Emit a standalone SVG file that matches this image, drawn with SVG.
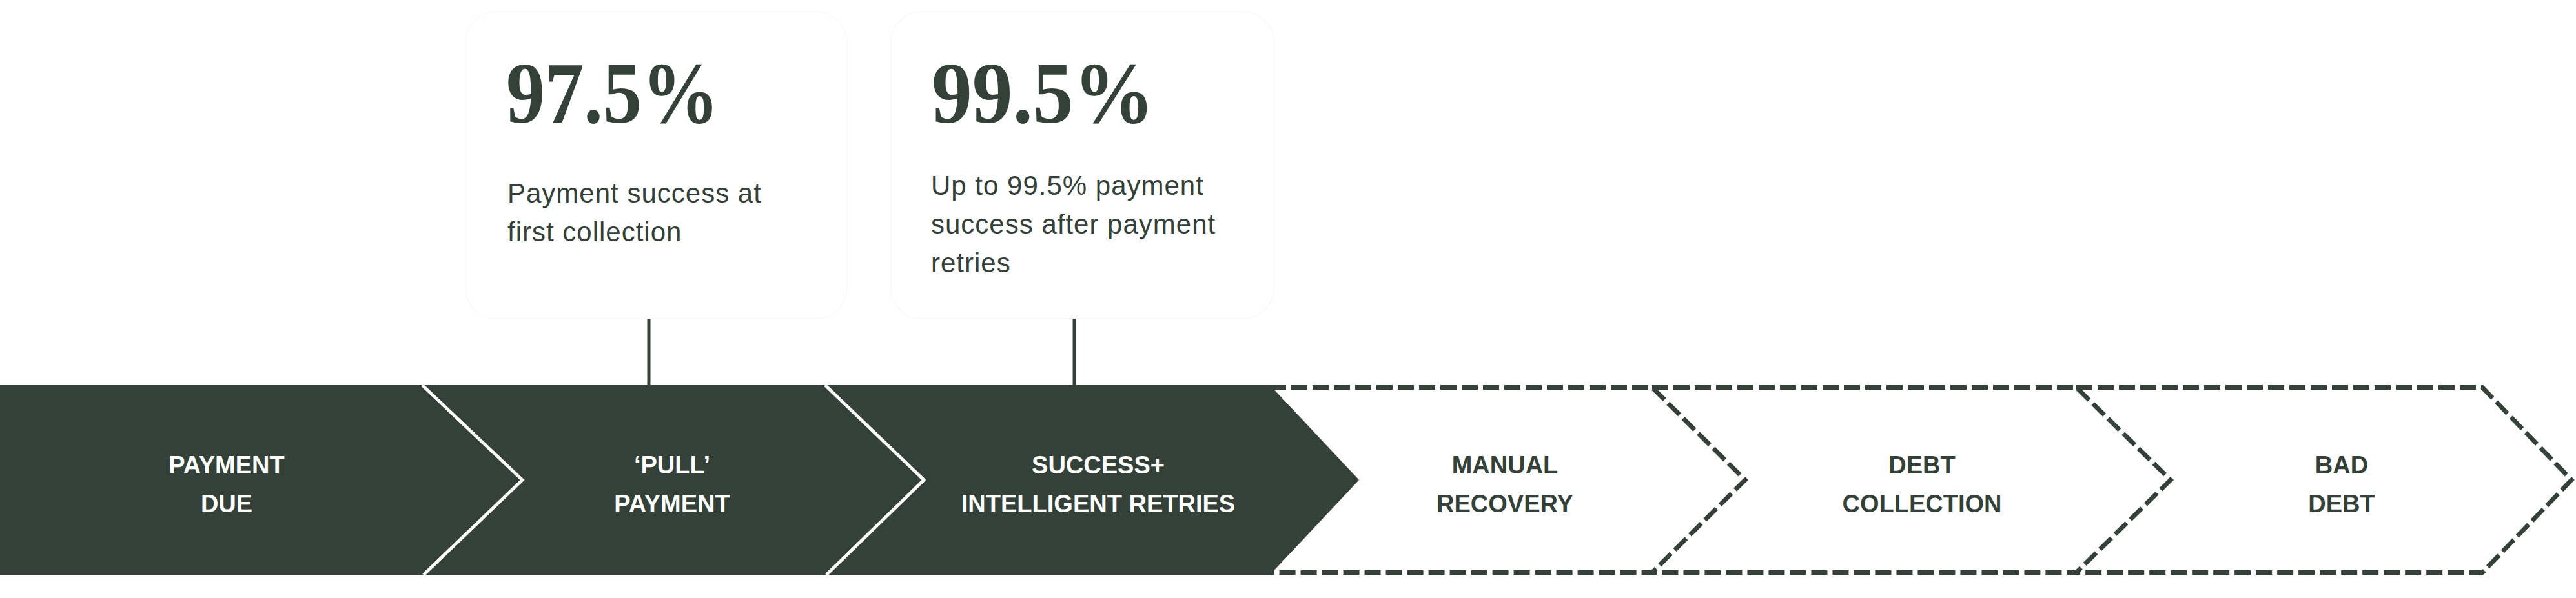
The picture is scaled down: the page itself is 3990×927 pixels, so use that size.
<svg xmlns="http://www.w3.org/2000/svg" width="3990" height="927" viewBox="0 0 3990 927">
  <style>
    .card { fill: #ffffff; stroke: #f8f8f8; stroke-width: 1.5; }
    .big { font-family: "Liberation Serif", "DejaVu Serif", serif; font-weight: bold; font-size: 136px; fill: #334139; }
    .body { font-family: "Liberation Sans", Arial, sans-serif; font-size: 42px; letter-spacing: 1px; fill: #334139; }
    .lbl { font-family: "Liberation Sans", Arial, sans-serif; font-weight: bold; font-size: 38px; text-anchor: middle; }
    .lbl-light { fill: #ffffff; }
    .lbl-dark { fill: #334139; }
    .dashed { fill: none; stroke: #334139; stroke-width: 7; stroke-dasharray: 25 8; }
    .sep { fill: none; stroke: #ffffff; stroke-width: 5; }
    .tick { stroke: #334139; stroke-width: 5; }
  </style>
  <rect width="3990" height="927" fill="#ffffff"/>

  <g id="card-first-collection">
    <rect class="card" x="721" y="18" width="591" height="476" rx="48"/>
    <text class="big" x="784" y="190" textLength="330" lengthAdjust="spacingAndGlyphs">97.5%</text>
    <text class="body" x="786" y="314">Payment success at</text>
    <text class="body" x="786" y="374">first collection</text>
  </g>

  <g id="card-retries">
    <rect class="card" x="1380" y="18" width="593" height="476" rx="48"/>
    <text class="big" x="1443" y="190" textLength="345" lengthAdjust="spacingAndGlyphs">99.5%</text>
    <text class="body" x="1442" y="302">Up to 99.5% payment</text>
    <text class="body" x="1442" y="362">success after payment</text>
    <text class="body" x="1442" y="422">retries</text>
  </g>

  <g id="connectors">
    <line class="tick" x1="1005" y1="494" x2="1005" y2="597"/>
    <line class="tick" x1="1664" y1="494" x2="1664" y2="597"/>
  </g>

  <g id="stage-manual-recovery">
    <path class="dashed" d="M1967,600.5 H2559 L2703,744 L2559,887.5 H1967"/>
    <text class="lbl lbl-dark" x="2331" y="734">MANUAL</text>
    <text class="lbl lbl-dark" x="2331" y="794">RECOVERY</text>
  </g>

  <g id="stage-debt-collection">
    <path class="dashed" d="M2559,600.5 H3216 L3362,744 L3216,887.5 H2559"/>
    <text class="lbl lbl-dark" x="2977" y="734">DEBT</text>
    <text class="lbl lbl-dark" x="2977" y="794">COLLECTION</text>
  </g>

  <g id="stage-bad-debt">
    <path class="dashed" d="M3216,600.5 H3845 L3983,744 L3845,887.5 H3216"/>
    <text class="lbl lbl-dark" x="3627" y="734">BAD</text>
    <text class="lbl lbl-dark" x="3627" y="794">DEBT</text>
  </g>

  <g id="stage-band">
    <path d="M0,597 H1967 L2105,744 L1967,891 H0 Z" fill="#334139"/>
  </g>

  <g id="stage-payment-due">
    <text class="lbl lbl-light" x="351" y="734">PAYMENT</text>
    <text class="lbl lbl-light" x="351" y="794">DUE</text>
  </g>

  <g id="stage-pull-payment">
    <polyline class="sep" points="654,597 809,744 656,891"/>
    <text class="lbl lbl-light" x="1041" y="734">‘PULL’</text>
    <text class="lbl lbl-light" x="1041" y="794">PAYMENT</text>
  </g>

  <g id="stage-success-retries">
    <polyline class="sep" points="1278,597 1431,744 1280,891"/>
    <text class="lbl lbl-light" x="1701" y="734">SUCCESS+</text>
    <text class="lbl lbl-light" x="1701" y="794">INTELLIGENT RETRIES</text>
  </g>
</svg>
